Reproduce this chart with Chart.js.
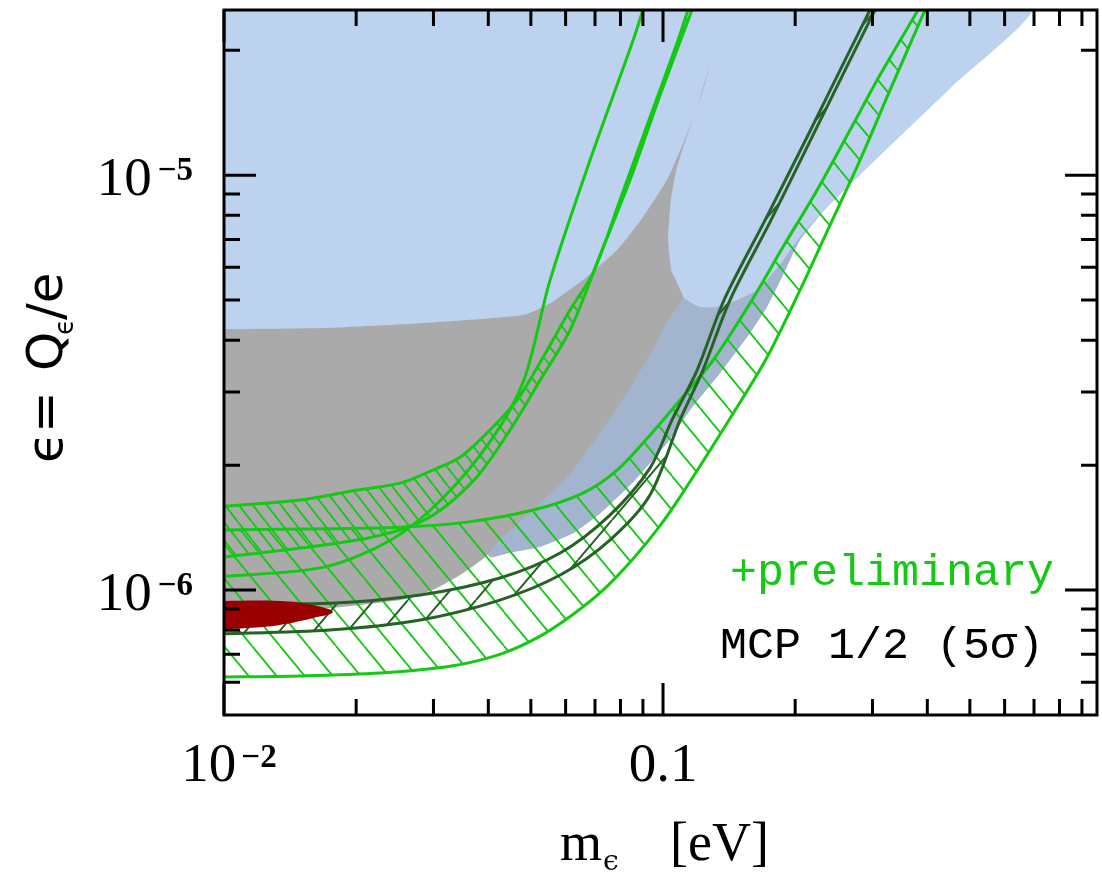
<!DOCTYPE html>
<html>
<head>
<meta charset="utf-8">
<script src="https://cdn.jsdelivr.net/npm/chart.js@4.4.0/dist/chart.umd.min.js"></script>
<style>
  html, body { margin: 0; padding: 0; background: #fff; }
  #wrap { width: 1102px; height: 875px; }
</style>
</head>
<body>
<div id="wrap"><canvas id="mcpChart" width="1102" height="875"></canvas></div>
<script>
// axes (m in eV, epsilon = Q/e)
const xRange = [0.01, 0.974];
const yRange = [5e-7, 2.5e-5];
const xMajor = [0.01, 0.1];
const xMinor = [0.02, 0.03, 0.04, 0.05, 0.06, 0.07, 0.08, 0.09, 0.2, 0.3, 0.4, 0.5, 0.6, 0.7, 0.8, 0.9];
const xTickBase = ['10', '0.1'];
const xTickExp = ['\u22122', ''];
const yMajor = [1e-6, 1e-5];
const yMinor = [6e-7, 7e-7, 8e-7, 9e-7, 2e-6, 3e-6, 4e-6, 5e-6, 6e-6, 7e-6, 8e-6, 9e-6, 2e-5];
const yTickBase = ['10', '10'];
const yTickExp = ['\u22126', '\u22125'];

// excluded regions, outlines as [m, eps]
const blueRegion = [
  [0.0095, 2.5e-5], [0.6855, 2.5e-5], [0.4507, 1.62e-5], [0.312, 1.117e-5], [0.2364, 8.37e-6],
  [0.2051, 7.09e-6], [0.1896, 6.31e-6], [0.1781, 5.81e-6], [0.1637, 5.28e-6], [0.1474, 5.0e-6],
  [0.1327, 4.81e-6], [0.1214, 4.81e-6], [0.1111, 5.08e-6], [0.1048, 5.81e-6], [0.0886, 4.0e-6],
  [0.0252, 2.87e-6], [0.0095, 2.87e-6]
];
const greyBlueRegion = [
  [0.6855, 2.5e-5], [0.4507, 1.62e-5], [0.312, 1.117e-5], [0.2364, 8.37e-6], [0.2051, 6.97e-6],
  [0.1876, 5.74e-6], [0.1726, 4.81e-6], [0.1578, 4.16e-6], [0.1327, 3.26e-6], [0.1152, 2.71e-6],
  [0.1021, 2.26e-6], [0.0855, 1.82e-6], [0.0719, 1.53e-6], [0.0624, 1.37e-6], [0.0525, 1.27e-6],
  [0.0448, 1.23e-6], [0.0404, 1.20e-6], [0.0383, 1.32e-6], [0.0886, 4.0e-6], [0.1093, 2.5e-5]
];
const greyRegion = [
  [0.0095, 4.25e-6], [0.0169, 4.28e-6], [0.0286, 4.40e-6], [0.0482, 4.60e-6], [0.0553, 4.91e-6],
  [0.0657, 5.59e-6], [0.0786, 6.60e-6], [0.0900, 7.92e-6], [0.1021, 9.73e-6], [0.1111, 1.19e-5],
  [0.1196, 1.46e-5], [0.1279, 1.84e-5], [0.1233, 1.60e-5], [0.1152, 1.305e-5], [0.1076, 1.045e-5],
  [0.1042, 8.71e-6], [0.1027, 6.97e-6], [0.1048, 5.81e-6], [0.1111, 5.08e-6], [0.1027, 4.47e-6],
  [0.0959, 3.89e-6], [0.0855, 3.15e-6], [0.0719, 2.39e-6], [0.0604, 1.87e-6], [0.0506, 1.56e-6],
  [0.0425, 1.32e-6], [0.0393, 1.20e-6], [0.0345, 1.087e-6], [0.0299, 1.0e-6], [0.0252, 9.46e-7],
  [0.0174, 9.05e-7], [0.0095, 8.85e-7]
];
const redRegion = [
  [0.0095, 9.41e-7], [0.0134, 9.41e-7], [0.01595, 9.20e-7], [0.0177, 8.85e-7], [0.01595, 8.56e-7],
  [0.0134, 8.24e-7], [0.0113, 8.10e-7], [0.0095, 8.01e-7]
];

// MCP 1/2 (5 sigma) bands
const bandAUpper = [
  [0.0095, 1.395e-6], [0.0149, 1.403e-6], [0.0252, 1.418e-6], [0.0358, 1.458e-6], [0.0506, 1.559e-6],
  [0.0657, 1.713e-6], [0.0786, 1.946e-6], [0.0934, 2.362e-6], [0.1093, 2.869e-6], [0.13, 3.58e-6],
  [0.1578, 4.91e-6], [0.1876, 6.71e-6], [0.2243, 9.2e-6], [0.2667, 1.284e-5], [0.312, 1.742e-5],
  [0.381, 2.5e-5]
];
const bandALower = [
  [0.0095, 6.17e-7], [0.0149, 6.21e-7], [0.0227, 6.31e-7], [0.0327, 6.55e-7], [0.0425, 7.0e-7],
  [0.0520, 7.7e-7], [0.0620, 8.7e-7], [0.0730, 1.0e-6], [0.0855, 1.19e-6], [0.0980, 1.42e-6],
  [0.1111, 1.72e-6], [0.1443, 2.66e-6], [0.1726, 3.64e-6], [0.2051, 5.28e-6], [0.2401, 7.58e-6],
  [0.2811, 1.087e-5], [0.3289, 1.602e-5], [0.3952, 2.5e-5]
];
const darkUpper = [
  [0.0095, 9.30e-7], [0.0174, 9.30e-7], [0.028, 9.73e-7], [0.0425, 1.069e-6], [0.0583, 1.228e-6],
  [0.0757, 1.516e-6], [0.0934, 1.968e-6], [0.1048, 2.568e-6], [0.1196, 3.389e-6], [0.1377, 5.0e-6],
  [0.1708, 7.79e-6], [0.2139, 1.248e-5], [0.2598, 1.893e-5], [0.2961, 2.5e-5]
];
const darkLower = [
  [0.0095, 7.83e-7], [0.0174, 8.01e-7], [0.028, 8.47e-7], [0.0425, 9.46e-7], [0.0583, 1.087e-6],
  [0.0757, 1.32e-6], [0.0934, 1.694e-6], [0.1093, 2.568e-6], [0.1233, 3.389e-6], [0.1421, 5.0e-6],
  [0.1762, 7.79e-6], [0.2196, 1.248e-5], [0.2667, 1.893e-5], [0.304, 2.5e-5]
];
const bandCUpper = [
  [0.0095, 1.585e-6], [0.0149, 1.648e-6], [0.0201, 1.742e-6], [0.0252, 1.81e-6], [0.0299, 1.946e-6],
  [0.0345, 2.091e-6], [0.0397, 2.389e-6], [0.0465, 2.869e-6], [0.0533, 3.64e-6], [0.0614, 4.73e-6],
  [0.0693, 5.81e-6], [0.0798, 8.71e-6], [0.0929, 1.357e-5], [0.1082, 2.114e-5], [0.114, 2.5e-5]
];
const bandCLower = [
  [0.0095, 1.194e-6], [0.0201, 1.32e-6], [0.0286, 1.475e-6], [0.0371, 1.841e-6], [0.0448, 2.429e-6],
  [0.0525, 3.206e-6], [0.0614, 4.23e-6], [0.0719, 6.42e-6], [0.0841, 9.73e-6], [0.0985, 1.559e-5],
  [0.1164, 2.5e-5]
];
const bandELine = [
  [0.0095, 1.075e-6], [0.0169, 1.136e-6], [0.024, 1.32e-6], [0.0312, 1.648e-6], [0.0406, 2.298e-6],
  [0.0482, 3.206e-6], [0.0553, 5.585e-6], [0.0682, 1.087e-5], [0.0855, 2.114e-5], [0.09, 2.5e-5]
];

const LIGHT_GREEN = '#14c814';
const DARK_GREEN = '#266226';

// hatch patterns: one line per w x h tile
function hatch(color, w, h, width, dir) {
  const c = document.createElement('canvas');
  c.width = w; c.height = h;
  const g = c.getContext('2d');
  g.strokeStyle = color;
  g.lineWidth = width;
  g.beginPath();
  for (const k of [-w, 0, w]) {
    if (dir === '\\') { g.moveTo(k, 0); g.lineTo(k + w, h); }
    else { g.moveTo(k + w, 0); g.lineTo(k, h); }
  }
  g.stroke();
  return g.createPattern(c, 'repeat');
}

const band = (upper, lower) => upper.concat(lower.slice().reverse());

function region(data, color, order) {
  return { data: data, showLine: true, fill: 'shape', backgroundColor: color, borderWidth: 0,
           borderColor: 'rgba(0,0,0,0)', pointRadius: 0, tension: 0.15, order: order };
}
function curve(data, color, width, order) {
  return { data: data, showLine: true, fill: false, borderColor: color, borderWidth: width,
           pointRadius: 0, tension: 0.3, order: order };
}

const ctx = document.getElementById('mcpChart').getContext('2d');

const SERIF = '"Liberation Serif", serif';

const framePlugin = {
  id: 'frame',
  afterDraw(chart) {
    const { ctx, chartArea: a, scales: { x, y } } = chart;
    ctx.save();
    ctx.strokeStyle = '#000';
    ctx.lineWidth = 3;
    ctx.beginPath();
    const xt = (v, len) => {
      const p = x.getPixelForValue(v);
      ctx.moveTo(p, a.bottom); ctx.lineTo(p, a.bottom - len);
      ctx.moveTo(p, a.top); ctx.lineTo(p, a.top + len);
    };
    const yt = (v, len) => {
      const p = y.getPixelForValue(v);
      ctx.moveTo(a.left, p); ctx.lineTo(a.left + len, p);
      ctx.moveTo(a.right, p); ctx.lineTo(a.right - len, p);
    };
    xMajor.forEach(v => xt(v, 32));
    xMinor.forEach(v => xt(v, 16));
    yMajor.forEach(v => yt(v, 32));
    yMinor.forEach(v => yt(v, 16));
    ctx.stroke();
    ctx.strokeRect(a.left, a.top, a.right - a.left, a.bottom - a.top);

    // tick labels
    ctx.fillStyle = '#000';
    ctx.textBaseline = 'alphabetic';
    ctx.textAlign = 'left';
    const baseFont = '55px ' + SERIF;
    const expFont = 'bold 33px ' + SERIF;
    yMajor.forEach((v, i) => {
      const p = y.getPixelForValue(v);
      ctx.font = expFont;
      const we = ctx.measureText(yTickExp[i]).width;
      ctx.font = baseFont;
      const wb = ctx.measureText(yTickBase[i]).width;
      const right = a.left - 31;
      ctx.fillText(yTickBase[i], right - we - 6 - wb, p + 20);
      ctx.font = expFont;
      ctx.fillText(yTickExp[i], right - we, p + 5);
    });
    xMajor.forEach((v, i) => {
      const p = x.getPixelForValue(v);
      ctx.font = expFont;
      const we = xTickExp[i] ? ctx.measureText(xTickExp[i]).width + 5 : 0;
      ctx.font = baseFont;
      const wb = ctx.measureText(xTickBase[i]).width;
      const left = p + (we ? 5 : 0) - (wb + we) / 2;
      ctx.fillText(xTickBase[i], left, a.bottom + 66);
      if (we) {
        ctx.font = expFont;
        ctx.fillText(xTickExp[i], left + wb + 5, a.bottom + 52);
      }
    });

    // annotations
    ctx.font = '45px "Liberation Mono", monospace';
    ctx.fillStyle = LIGHT_GREEN;
    ctx.fillText('+preliminary', 730, 585);
    ctx.fillStyle = '#000';
    ctx.fillText('MCP 1/2 (5\u03C3)', 720, 658);

    // axis titles
    ctx.font = '54px ' + SERIF;
    ctx.fillText('m', 560, 860);
    const wm = ctx.measureText('m').width;
    ctx.font = '28px "DejaVu Serif", serif';
    ctx.fillText('\u03F5', 560 + wm + 1, 870);
    ctx.font = '54px ' + SERIF;
    ctx.fillText('[eV]', 670, 860);

    ctx.translate(62, 463);
    ctx.rotate(-Math.PI / 2);
    ctx.font = '50px "DejaVu Sans", sans-serif';
    ctx.fillText('\u03F5', 0, 0);
    ctx.fillText('=', 30, 0);
    ctx.fillText('Q', 92, 0);
    ctx.font = '26px "DejaVu Sans", sans-serif';
    ctx.fillText('\u03F5', 128, 11);
    ctx.font = '50px "DejaVu Sans", sans-serif';
    ctx.fillText('/e', 143, 0);
    ctx.restore();
  }
};

new Chart(ctx, {
  type: 'scatter',
  data: {
    datasets: [
      region(greyBlueRegion, '#a3b5ce', 20),
      region(blueRegion, '#bdd2ee', 19),
      region(greyRegion, '#aaaaaa', 18),
      region(band(bandAUpper, bandALower), hatch(LIGHT_GREEN, 28, 34, 1.8, '\\'), 12),
      region(band(bandCUpper, bandCLower), hatch(LIGHT_GREEN, 14, 18, 1.8, '\\'), 11),
      region(band(darkUpper, darkLower), hatch(DARK_GREEN, 34, 40, 2, '/'), 10),
      curve(bandAUpper, LIGHT_GREEN, 3, 6),
      curve(bandALower, LIGHT_GREEN, 3, 6),
      curve(bandCUpper, LIGHT_GREEN, 3, 6),
      curve(bandCLower, LIGHT_GREEN, 3, 6),
      curve(bandELine, LIGHT_GREEN, 3, 6),
      curve(darkUpper, DARK_GREEN, 3, 5),
      curve(darkLower, DARK_GREEN, 3, 5),
      Object.assign(region(redRegion, '#9b0000', 1), { tension: 0.4 })
    ]
  },
  options: {
    responsive: false,
    animation: false,
    layout: { padding: { top: 10, right: 5, left: 0, bottom: 0 } },
    plugins: { legend: { display: false }, tooltip: { enabled: false } },
    scales: {
      x: {
        type: 'logarithmic', min: xRange[0], max: xRange[1], position: 'bottom',
        afterBuildTicks: s => { s.ticks = xMajor.map(v => ({ value: v })); },
        afterFit: s => { s.height = 160; s.paddingLeft = 0; s.paddingRight = 0; },
        grid: { display: false, drawTicks: false }, border: { display: false },
        ticks: { display: false }
      },
      y: {
        type: 'logarithmic', min: yRange[0], max: yRange[1],
        afterBuildTicks: s => { s.ticks = yMajor.map(v => ({ value: v })); },
        afterFit: s => { s.width = 224; s.paddingTop = 0; s.paddingBottom = 0; },
        grid: { display: false, drawTicks: false }, border: { display: false },
        ticks: { display: false }
      }
    }
  },
  plugins: [framePlugin]
});
</script>
</body>
</html>
